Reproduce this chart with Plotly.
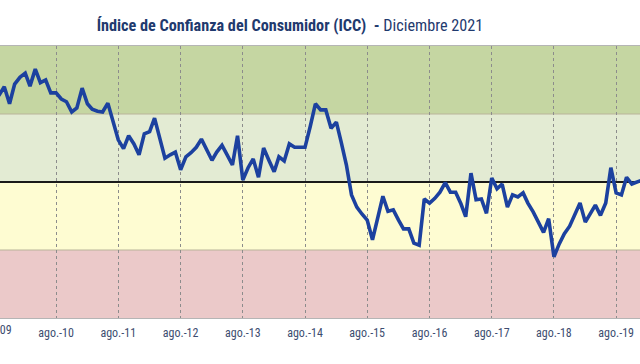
import pandas as pd
import plotly.graph_objects as go

# Monthly ICC values, Aug 2009 .. Jan 2020 (visible portion of the chart)
start_month = "2009-08-01"
icc = [
    62.5, 62.8, 64.0, 61.5, 64.4, 65.4, 66.0, 64.1, 66.6, 64.6, 65.0, 63.1,
    63.1, 62.2, 61.8, 60.3, 60.9, 63.8, 61.5, 60.7, 60.4, 60.3, 61.6, 58.7,
    56.2, 54.9, 56.8, 55.6, 54.0, 57.1, 57.4, 59.4, 56.5, 53.5, 54.0, 54.4,
    51.8, 53.7, 54.3, 55.1, 56.3, 54.7, 53.2, 54.4, 55.4, 54.0, 52.5, 56.8,
    50.3, 52.1, 53.4, 50.7, 55.0, 53.2, 51.5, 53.7, 53.1, 55.6, 55.1, 55.1,
    55.1, 58.2, 61.5, 60.6, 60.6, 57.9, 58.8, 55.9, 52.5, 48.1, 46.3, 45.3,
    44.4, 41.5, 44.7, 47.9, 45.7, 45.9, 44.4, 43.1, 43.1, 41.0, 40.7, 47.5,
    46.9, 47.6, 48.5, 49.9, 48.5, 48.5, 46.8, 44.9, 51.3, 47.4, 47.5, 45.4,
    50.6, 49.0, 49.7, 46.3, 48.1, 47.8, 48.4, 46.9, 45.6, 44.1, 42.6, 44.6,
    39.0, 40.9, 42.4, 43.5, 45.1, 46.9, 44.1, 45.4, 46.6, 45.1, 46.9, 52.1,
    48.4, 48.1, 50.7, 49.7, 50.0, 50.3,
]
dates = pd.date_range(start_month, periods=len(icc), freq="MS")

tick_dates = ["2009-08-01", "2010-08-01", "2011-08-01", "2012-08-01", "2013-08-01",
              "2014-08-01", "2015-08-01", "2016-08-01", "2017-08-01", "2018-08-01",
              "2019-08-01"]
tick_labels = ["ago.-09", "ago.-10", "ago.-11", "ago.-12", "ago.-13", "ago.-14",
               "ago.-15", "ago.-16", "ago.-17", "ago.-18", "ago.-19"]

band_edges = [30, 40, 50, 60, 70]
band_colors = ["#ebc9c9", "#fefcd2", "#e3ebd3", "#c5d6a2"]
neutral_level = 50

FONT = "Liberation Sans Narrow, Roboto Condensed, Roboto, sans-serif"

x_range = ["2009-09-06", "2019-12-19"]
r0 = pd.Timestamp(x_range[0])
r1 = pd.Timestamp(x_range[1])
first_tick_pos = (pd.Timestamp(tick_dates[0]) - r0) / (r1 - r0)

fig = go.Figure()
fig.add_trace(go.Scatter(
    x=dates, y=icc, mode="lines",
    line=dict(color="#1c419f", width=3.6),
    hoverinfo="skip", showlegend=False,
))

shapes = []
for i, col in enumerate(band_colors):
    shapes.append(dict(type="rect", xref="paper", yref="y", x0=0, x1=1,
                       y0=band_edges[i], y1=band_edges[i + 1],
                       fillcolor=col, line=dict(width=0), layer="below"))
for lv in (40, 60):
    shapes.append(dict(type="line", xref="paper", yref="y", x0=0, x1=1, y0=lv, y1=lv,
                       line=dict(color="#b9b49a", width=1), layer="below"))
shapes.append(dict(type="line", xref="paper", yref="y", x0=0, x1=1,
                   y0=neutral_level, y1=neutral_level,
                   line=dict(color="#1a1a1a", width=2.2), layer="between"))

# first tick label sits just outside the visible range (cut by the left edge)
annotations = [dict(x=first_tick_pos, xref="paper", xanchor="center",
                    y=0, yref="paper", yanchor="top",
                    yshift=-3, text=tick_labels[0], showarrow=False,
                    font=dict(family=FONT, size=12, color="#3d4d70"))]

fig.update_layout(
    width=640, height=364,
    margin=dict(l=0, r=0, t=46, b=46),
    paper_bgcolor="white", plot_bgcolor="white",
    shapes=shapes,
    annotations=annotations,
    title=dict(
        text="<b>Índice de Confianza del Consumidor (ICC)  -</b> Diciembre 2021",
        x=290 / 640, xanchor="center", xref="container",
        y=1 - 25 / 364, yanchor="middle", yref="container",
        font=dict(family=FONT, size=16.2, color="#1f3a6e"),
    ),
    xaxis=dict(
        type="date", range=x_range,
        tickvals=tick_dates, ticktext=tick_labels,
        showgrid=True, gridcolor="#8c8c8c", griddash="dot", gridwidth=1,
        tickfont=dict(family=FONT, size=12, color="#3d4d70"),
        ticks="", ticklabelstandoff=4,
        showline=True, linecolor="#b5b5b5", linewidth=1, mirror=True,
        zeroline=False, fixedrange=True,
    ),
    yaxis=dict(
        range=[30, 70], showgrid=False, showticklabels=False, ticks="",
        zeroline=False, showline=False, fixedrange=True,
    ),
)

fig.write_html("out.html", config={"displayModeBar": False},
               post_script="document.body.style.margin='0px';")
